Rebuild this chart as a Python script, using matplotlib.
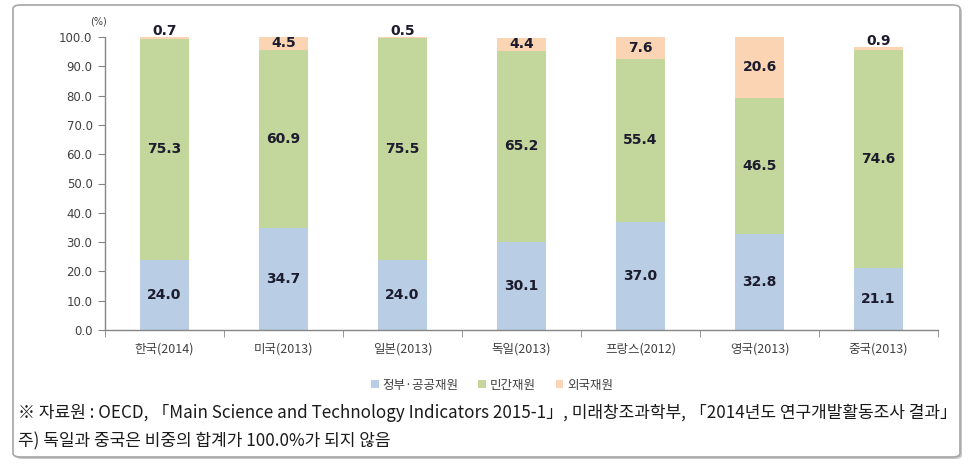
import matplotlib
matplotlib.use("Agg")
import matplotlib.pyplot as plt
from matplotlib.patches import FancyBboxPatch, Patch
import numpy as np

categories = ['한국(2014)', '미국(2013)', '일본(2013)', '독일(2013)', '프랑스(2012)', '영국(2013)', '중국(2013)']
gov = [24.0, 34.7, 24.0, 30.1, 37.0, 32.8, 21.1]
priv = [75.3, 60.9, 75.5, 65.2, 55.4, 46.5, 74.6]
foreign = [0.7, 4.5, 0.5, 4.4, 7.6, 20.6, 0.9]
series_names = ['정부·공공재원', '민간재원', '외국재원']
yticks = [0, 10, 20, 30, 40, 50, 60, 70, 80, 90, 100]
note1 = '※ 자료원 : OECD, 「Main Science and Technology Indicators 2015-1」, 미래창조과학부, 「2014년도 연구개발활동조사 결과」'
note2 = '주) 독일과 중국은 비중의 합계가 100.0%가 되지 않음'

colors = ['#B9CDE5', '#C3D69B', '#FBD4B4']
KR = ['Noto Sans CJK KR', 'DejaVu Sans']
plt.rcParams['font.family'] = KR

W, H = 977, 466
fig = plt.figure(figsize=(W / 100, H / 100), dpi=100)

# outer framed box with shadow
shadow = FancyBboxPatch((15 / W, 1 - 459 / H), 947 / W, 452 / H,
                        boxstyle="round,pad=0,rounding_size=0.008",
                        transform=fig.transFigure, facecolor='#C8C8C8',
                        edgecolor='none', zorder=0)
fig.patches.append(shadow)
box = FancyBboxPatch((13 / W, 1 - 457 / H), 947 / W, 452 / H,
                     boxstyle="round,pad=0,rounding_size=0.008",
                     transform=fig.transFigure, facecolor='white',
                     edgecolor='#A6A6A6', linewidth=1.2, zorder=1)
fig.patches.append(box)

ax = fig.add_axes([105 / W, 1 - 330 / H, (938 - 105) / W, (330 - 37) / H])
ax.set_zorder(2)
ax.patch.set_visible(False)

x = np.arange(len(categories))
bw = 0.41
gov_a = np.array(gov)
priv_a = np.array(priv)
for_a = np.array(foreign)
bottoms = [np.zeros(len(x)), gov_a, gov_a + priv_a]
vals = [gov_a, priv_a, for_a]
for v, b, c in zip(vals, bottoms, colors):
    ax.bar(x, v, bw, bottom=b, color=c, edgecolor='none', zorder=2)

lab_color = '#1C1C2E'
for v, b in zip(vals, bottoms):
    for xi, vi, bi in zip(x, v, b):
        yc = bi + vi / 2
        if vi < 2:
            ax.annotate(f'{vi:.1f}', (xi, bi + vi), xytext=(0, -1), textcoords='offset points',
                        ha='center', va='bottom', fontsize=10, fontweight='bold',
                        color=lab_color, family='DejaVu Sans', zorder=3, annotation_clip=False)
        else:
            ax.text(xi, yc, f'{vi:.1f}', ha='center', va='center', fontsize=10,
                    fontweight='bold', color=lab_color, family='DejaVu Sans', zorder=3)

ax.set_xlim(-0.5, len(x) - 0.5)
ax.set_ylim(0, 100)
ax.set_yticks(yticks)
ax.set_yticklabels([f'{t:.1f}' for t in yticks], family='DejaVu Sans', fontsize=8.5, color='#404040')
ax.set_xticks(x)
ax.set_xticklabels(categories, fontsize=9, color='#404040')
ax.set_xticks(np.arange(-0.5, len(x), 1.0), minor=True)
ax.tick_params(axis='x', which='major', length=0, pad=9)
ax.tick_params(axis='x', which='minor', length=5, color='#868686', direction='out')
ax.tick_params(axis='y', length=5, color='#868686', direction='out', pad=4)
for s in ['top', 'right']:
    ax.spines[s].set_visible(False)
for s in ['left', 'bottom']:
    ax.spines[s].set_color('#868686')
    ax.spines[s].set_linewidth(1.0)

fig.text(107 / W, 1 - 22 / H, '(%)', fontsize=7, color='#404040', ha='right', va='center',
         family='DejaVu Sans')

handles = [Patch(facecolor=c, edgecolor='none') for c in colors]
leg = fig.legend(handles, series_names, loc='center', bbox_to_anchor=(492 / W, 1 - 385 / H),
                 ncol=3, frameon=False, fontsize=9, handlelength=0.6, handleheight=0.6,
                 handletextpad=0.3, columnspacing=1.6)
for t in leg.get_texts():
    t.set_color('#404040')

t1 = fig.text(18 / W, 1 - 413 / H, note1, fontsize=12, color='#1a1a1a', ha='left', va='center',
              fontweight='light')
t2 = fig.text(18 / W, 1 - 441 / H, note2, fontsize=12, color='#1a1a1a', ha='left', va='center',
              fontweight='light')
# fit first footnote line into the box width
fig.canvas.draw()
r = fig.canvas.get_renderer()
w = t1.get_window_extent(r).width
fs = 12 * 940 / w
t1.set_fontsize(fs)
t2.set_fontsize(fs)

fig.savefig('out.png', dpi=100)
